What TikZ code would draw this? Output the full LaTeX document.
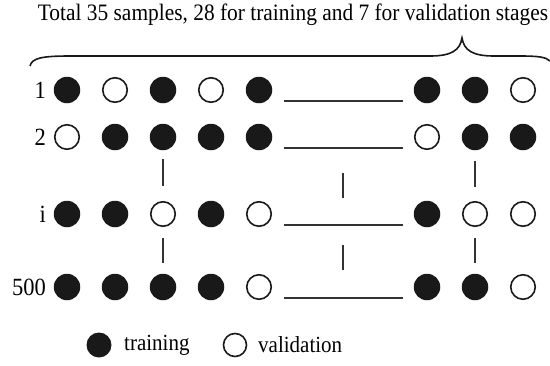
\documentclass[tikz,border=0pt]{standalone}
\usepackage{fontspec}
\setmainfont{Liberation Serif}
\newcommand{\tallt}[1]{\scalebox{1}[1.1]{#1}}
\begin{document}
\begin{tikzpicture}[x=1pt,y=-1pt,
  trn/.style={circle,fill=black!90,minimum size=26.5pt,inner sep=0pt},
  val/.style={circle,draw=black!90,line width=1.6pt,minimum size=24.5pt,inner sep=0pt},
  txt/.style={font=\fontsize{21}{21}\selectfont,inner sep=0pt},
  lab/.style={font=\fontsize{22.5}{22.5}\selectfont,inner sep=0pt,anchor=east},
  gapline/.style={line width=1.6pt,black!80},
]
\useasboundingbox (0,0) rectangle (550,365);
% title and brace
\node[txt,font=\fontsize{21.4}{21.4}\selectfont] (title) at (293,15) {\tallt{Total 35 samples, 28 for training and 7 for validation stages}};
\draw[line width=1.6pt,black!90] (30,66) .. controls (32,58) and (42,56) .. (70,56) -- (430,56)
  .. controls (452,56) and (460,50) .. (462,38)
  .. controls (464,50) and (472,56) .. (494,56) -- (520,56)
  .. controls (538,56) and (546,57) .. (550,61);
% rows
\foreach \row/\yy/\lbl/\pat in {r1/90/1/{trn,val,trn,val,trn,trn,trn,val},
                                 r2/137/2/{val,trn,trn,trn,trn,val,trn,trn},
                                 ri/214/i/{trn,trn,val,trn,val,trn,val,val},
                                 rn/287/500/{trn,trn,trn,trn,val,trn,trn,val}} {
  \node[lab] (\row-lab) at (46,\yy) {\tallt{\lbl}};
  \foreach \s [count=\c] in \pat {
    \pgfmathsetmacro{\xx}{\c<6 ? 67+48*(\c-1) : 427+48*(\c-6)}
    \node[\s] (\row-\c) at (\xx,\yy) {};
  }
  \coordinate (\row-gl) at (284,\yy+11);
  \coordinate (\row-gr) at (403,\yy+11);
  \draw[gapline] (\row-gl) -- (\row-gr);
}
% vertical ellipsis marks
\foreach \xx/\ya/\yb/\n in {163/159/186/a, 343/173/198/b, 475/161/187/c,
                           163/238/263/d, 343/245/270/e, 475/238/263/f} {
  \coordinate (v\n-top) at (\xx,\ya);
  \coordinate (v\n-bot) at (\xx,\yb);
  \draw[gapline] (v\n-top) -- (v\n-bot);
}
% legend
\node[trn,minimum size=25pt] (leg-t) at (99,345) {};
\node[txt,anchor=west] (leg-tl) at (124,345) {\tallt{training}};
\node[val,minimum size=23pt] (leg-v) at (235,345) {};
\node[txt,anchor=west] (leg-vl) at (258,345) {\tallt{validation}};
\end{tikzpicture}
\end{document}
